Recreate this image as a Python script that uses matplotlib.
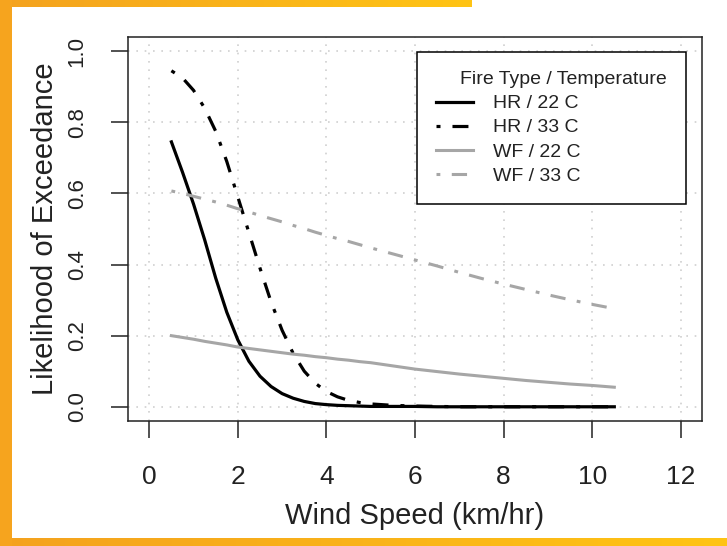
import numpy as np
import matplotlib; matplotlib.use('Agg'); import matplotlib.pyplot as plt
from matplotlib.colors import LinearSegmentedColormap

plt.rcParams['font.family'] = ['Liberation Sans', 'DejaVu Sans']

# wind speed (km/hr) and exceedance likelihood per fire type / temperature
wind = [0.5, 0.75, 1.0, 1.25, 1.5, 1.75, 2.0, 2.25, 2.5, 2.75, 3.0, 3.25, 3.5, 3.75,
        4.0, 4.25, 4.5, 4.75, 5.0, 5.5, 6.0, 6.5, 7.0, 7.5, 8.0, 8.5, 9.0, 9.5, 10.0, 10.5]
hr_22 = [0.745, 0.660, 0.570, 0.470, 0.362, 0.266, 0.188, 0.128, 0.086, 0.057, 0.037, 0.024, 0.015, 0.009,
         0.006, 0.004, 0.003, 0.002, 0.001, 0.001, 0.001, 0.0, 0.0, 0.0, 0.0, 0.0, 0.0, 0.0, 0.0, 0.0]
hr_33 = [0.945, 0.925, 0.890, 0.840, 0.775, 0.690, 0.590, 0.490, 0.390, 0.295, 0.215, 0.150, 0.100, 0.066,
         0.043, 0.028, 0.018, 0.012, 0.008, 0.004, 0.002, 0.001, 0.0, 0.0, 0.0, 0.0, 0.0, 0.0, 0.0, 0.0]
wf_22 = [0.200, 0.195, 0.190, 0.184, 0.179, 0.174, 0.168, 0.164, 0.160, 0.156, 0.152, 0.148, 0.145, 0.141,
         0.138, 0.134, 0.131, 0.127, 0.124, 0.115, 0.106, 0.099, 0.092, 0.086, 0.080, 0.074, 0.069, 0.064, 0.060, 0.055]
wf_33 = [0.607, 0.600, 0.592, 0.584, 0.576, 0.567, 0.557, 0.548, 0.538, 0.529, 0.520, 0.510, 0.501, 0.491,
         0.482, 0.473, 0.465, 0.456, 0.447, 0.430, 0.413, 0.396, 0.378, 0.361, 0.345, 0.330, 0.315, 0.301, 0.288, 0.276]

labels = ['HR / 22 C', 'HR / 33 C', 'WF / 22 C', 'WF / 33 C']
xticks = [0, 2, 4, 6, 8, 10, 12]
yticks = [0.0, 0.2, 0.4, 0.6, 0.8, 1.0]

W, H = 727, 546
fig = plt.figure(figsize=(W / 100, H / 100), dpi=100)

# orange page frame
band = LinearSegmentedColormap.from_list('band', ['#F4A21F', '#FFC414'])
grad = np.linspace(0, 1, 256)[None, :]
for rect in ([0, 0, 1, 8 / H], [0, 1 - 7 / H, 472 / W, 7 / H]):
    bax = fig.add_axes(rect)
    bax.imshow(grad, aspect='auto', cmap=band)
    bax.axis('off')
lax = fig.add_axes([0, 0, 12 / W, 1])
lax.set_facecolor('#F6A41E'); lax.set_xticks([]); lax.set_yticks([])
for s in lax.spines.values(): s.set_visible(False)

ax = fig.add_axes([128 / W, 1 - 421 / H, 574 / W, 384 / H])
dotdash = (0, (1.25, 3.75, 5, 3.75))
ax.plot(wind, hr_22, color='black', lw=2.3, label=labels[0], zorder=3)
ax.plot(wind, hr_33, color='black', lw=2.3, ls=dotdash, label=labels[1], zorder=3)
ax.plot(wind, wf_22, color='#a6a6a6', lw=2.2, label=labels[2], zorder=3)
ax.plot(wind, wf_33, color='#a6a6a6', lw=2.2, ls=dotdash, label=labels[3], zorder=3)

ax.set_xlim(-0.48, 12.48); ax.set_ylim(-0.04, 1.04)
ax.set_xticks(xticks); ax.set_xticklabels([str(t) for t in xticks])
ax.set_yticks(yticks); ax.set_yticklabels([f"{t:.1f}" for t in yticks])
ax.grid(True, color='#cfcfcf', ls=(0, (1, 4)), lw=1.2, zorder=1)
for s in ax.spines.values():
    s.set_linewidth(1.1); s.set_color('#222222')
ax.tick_params(axis='both', length=12, width=1.1, color='#222222', labelcolor='#222222')
ax.tick_params(axis='x', pad=20, labelsize=19)
ax.tick_params(axis='y', pad=17, labelsize=16, labelrotation=90)
for t in ax.get_yticklabels():
    t.set_va('center')

ax.set_xlabel('Wind Speed (km/hr)', fontsize=21, color='#222222')
ax.set_ylabel('Likelihood of Exceedance', fontsize=21, color='#222222')
ax.xaxis.set_label_coords(0.5, -0.21)
ax.yaxis.set_label_coords(-0.12, 0.5)

leg = ax.legend(loc='upper left', bbox_to_anchor=(0.5035, 0.5, 0.4686, 0.461), mode='expand',
                borderaxespad=0, title='Fire Type / Temperature', fontsize=14, title_fontsize=14,
                frameon=True, fancybox=False, handlelength=1.9, handletextpad=1.0,
                labelspacing=0.33, borderpad=1.0, alignment='right')
leg.get_frame().set_edgecolor('black'); leg.get_frame().set_linewidth(1.1)
leg.get_frame().set_alpha(1)
for t in leg.get_texts(): t.set_color('#222222')
leg.get_title().set_color('#222222')
leg.set_zorder(5)

fig.savefig('out.png', dpi=100)
